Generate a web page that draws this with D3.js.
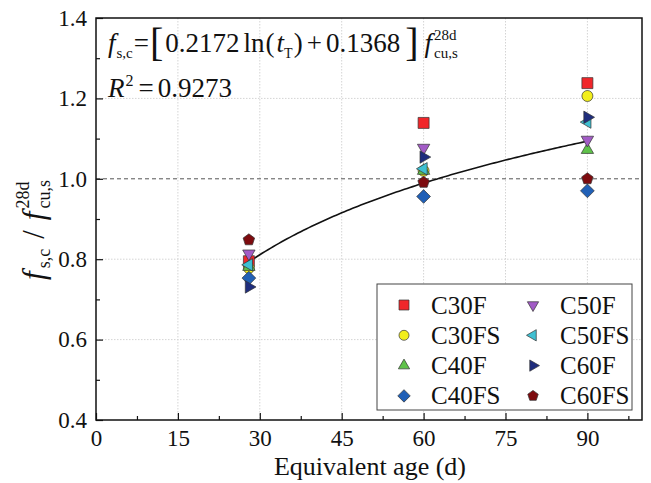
<!DOCTYPE html>
<html>
<head>
<meta charset="utf-8">
<script src="https://cdn.jsdelivr.net/npm/d3@7"></script>
<style>
  body { margin: 0; background: #fff; }
</style>
</head>
<body>
<div id="chart"></div>
<script>
(async () => {

    // equivalent ages (d)
    const ages = [28, 60, 90]

    // series values (f_s,c / f_cu,s^28d)
    const seriesNames = ["C30F", "C30FS", "C40F", "C40FS", "C50F", "C50FS", "C60F", "C60FS"]
    const C30F  = [0.795, 1.139, 1.238]
    const C30FS = [0.778, 1.020, 1.206]
    const C40F  = [0.781, 1.020, 1.072]
    const C40FS = [0.753, 0.956, 0.970]
    const C50F  = [0.814, 1.077, 1.097]
    const C50FS = [0.786, 1.025, 1.141]
    const C60F  = [0.731, 1.054, 1.153]
    const C60FS = [0.848, 0.991, 1.000]
    const seriesValues = [C30F, C30FS, C40F, C40FS, C50F, C50FS, C60F, C60FS]

    // fitted log curve as it appears on the plot: y = a*ln(t) + b
    const fitCoef = [0.257, -0.063]
    const fitRange = [28, 90]

    const xTicks = [0, 15, 30, 45, 60, 75, 90]
    const yTicks = [0.4, 0.6, 0.8, 1.0, 1.2, 1.4]

    const colors  = ["#f0262a", "#f2ee1c", "#5fc24a", "#2160b6", "#a25bc6", "#3fc0d2", "#1f2d7d", "#7d0b0f"]
    const symbols = ["square", "circle", "triUp", "diamond", "triDown", "triLeft", "triRight", "pentagon"]

    const FONT = "'Times New Roman', 'Liberation Serif', 'DejaVu Serif', serif"

    const width = 651
    const height = 483
    const left = 96, right = 642, top = 18, bottom = 420

    const x_scale = d3.scaleLinear().domain([0, 100]).range([left, right])
    const y_scale = d3.scaleLinear().domain([0.4, 1.4]).range([bottom, top])

    const svg = d3.select("#chart")
        .append("svg")
            .attr("width", width)
            .attr("height", height)
            .attr("font-family", FONT)
            .style("font-family", FONT)

    // grid
    svg.append("g")
        .selectAll("line")
        .data(xTicks.filter(d => d > 0))
        .enter()
        .append("line")
            .attr("x1", d => x_scale(d)).attr("x2", d => x_scale(d))
            .attr("y1", top).attr("y2", bottom)
            .attr("stroke", "#d4d4d4").attr("stroke-width", 1).attr("stroke-dasharray", "1.5,1.5")

    svg.append("g")
        .selectAll("line")
        .data(yTicks.filter(d => d > 0.4 && d < 1.4 && d !== 1.0))
        .enter()
        .append("line")
            .attr("x1", left).attr("x2", right)
            .attr("y1", d => y_scale(d)).attr("y2", d => y_scale(d))
            .attr("stroke", "#d4d4d4").attr("stroke-width", 1).attr("stroke-dasharray", "1.5,1.5")

    // reference line at 1.0
    svg.append("line")
        .attr("x1", left).attr("x2", right)
        .attr("y1", y_scale(1.0)).attr("y2", y_scale(1.0))
        .attr("stroke", "#555").attr("stroke-width", 1).attr("stroke-dasharray", "4,3")

    // axes (ticks pointing inward)
    const x_axis = d3.axisBottom(x_scale).tickValues(xTicks).tickSize(-7).tickPadding(10).tickFormat(d3.format("d"))
    const x_minor = d3.axisBottom(x_scale).tickValues(xTicks.map(d => d + 7.5)).tickSize(-4).tickFormat("")
    const y_axis = d3.axisLeft(y_scale).tickValues(yTicks).tickSize(-7).tickPadding(9).tickFormat(d3.format(".1f"))
    const y_minor = d3.axisLeft(y_scale).tickValues([0.5, 0.7, 0.9, 1.1, 1.3]).tickSize(-4).tickFormat("")

    svg.append("g").attr("class", "x_axis").attr("transform", `translate(0, ${bottom})`).call(x_axis)
    svg.append("g").attr("transform", `translate(0, ${bottom})`).call(x_minor)
    svg.append("g").attr("class", "y_axis").attr("transform", `translate(${left}, 0)`).call(y_axis)
    svg.append("g").attr("transform", `translate(${left}, 0)`).call(y_minor)

    svg.selectAll("g").attr("font-family", null).attr("font-size", null)
    svg.selectAll(".domain").remove()
    svg.selectAll(".tick line").attr("stroke", "#111").attr("stroke-width", 1.2)
    svg.selectAll(".tick text").style("font-size", "23px").attr("fill", "#111")

    // frame
    svg.append("rect")
        .attr("x", left).attr("y", top)
        .attr("width", right - left).attr("height", bottom - top)
        .attr("fill", "none").attr("stroke", "#111").attr("stroke-width", 1.5)

    // x axis title
    svg.append("text")
        .text("Equivalent age (d)")
        .attr("x", 370)
        .attr("y", 475)
        .attr("text-anchor", "middle")
        .attr("fill", "#111")
        .style("font-size", "26px")

    // rich text helper: parts laid out left to right, "stack" puts a part above the previous one
    function richText(g, parts, center) {
        let cx = 0, lastStart = 0
        const nodes = []
        parts.forEach(function(p) {
            const t = g.append("text")
                .text(p.t)
                .attr("y", p.dy || 0)
                .attr("fill", "#111")
                .style("font-size", p.s + "px")
                .style("font-style", p.i ? "italic" : "normal")
            const w = t.node().getComputedTextLength()
            let sx
            if (p.stack) {
                sx = lastStart
                cx = Math.max(cx, sx + w)
            } else {
                sx = cx + (p.pre || 0)
                lastStart = sx
                cx = sx + w
            }
            t.attr("x", sx)
            nodes.push(t)
        })
        if (center) nodes.forEach(t => t.attr("x", +t.attr("x") - cx / 2))
        return cx
    }

    // y axis title
    const yg = svg.append("g").attr("transform", `translate(44, 230) rotate(-90)`)
    richText(yg, [
        { t: "f", s: 31, i: true },
        { t: "s,c", s: 18, dy: 6, pre: 3 },
        { t: "/", s: 31, pre: 10 },
        { t: "f", s: 31, i: true, pre: 10 },
        { t: "cu,s", s: 18, dy: 6, pre: 3 },
        { t: "28d", s: 18, dy: -15, stack: true }
    ], true)

    // fitted curve
    const fitPts = d3.range(fitRange[0], fitRange[1] + 0.5, 0.5)
    const line = d3.line()
        .x(d => x_scale(d))
        .y(d => y_scale(fitCoef[0] * Math.log(d) + fitCoef[1]))
    svg.append("path")
        .attr("d", line(fitPts))
        .attr("fill", "none")
        .attr("stroke", "#111")
        .attr("stroke-width", 1.6)

    // marker shapes
    function symbolPath(kind, r) {
        const pts = []
        if (kind === "circle") return d3.symbol(d3.symbolCircle, Math.PI * r * r)()
        if (kind === "square") return `M${-r},${-r}H${r}V${r}H${-r}Z`
        if (kind === "diamond") return `M0,${-r * 1.25}L${r * 1.25},0L0,${r * 1.25}L${-r * 1.25},0Z`
        let angles
        if (kind === "triUp") angles = [-90, 30, 150]
        if (kind === "triDown") angles = [90, 210, 330]
        if (kind === "triLeft") angles = [180, 300, 60]
        if (kind === "triRight") angles = [0, 120, 240]
        if (kind === "pentagon") angles = [-90, -18, 54, 126, 198]
        const rr = kind === "pentagon" ? r * 1.1 : r * 1.3
        angles.forEach(a => pts.push([rr * Math.cos(a * Math.PI / 180), rr * Math.sin(a * Math.PI / 180)]))
        return "M" + pts.map(p => p[0].toFixed(2) + "," + p[1].toFixed(2)).join("L") + "Z"
    }

    // data points
    seriesValues.forEach(function(vals, i) {
        svg.append("g")
            .selectAll("path")
            .data(vals)
            .enter()
            .append("path")
                .attr("d", symbolPath(symbols[i], 5.5))
                .attr("transform", (d, j) => `translate(${x_scale(ages[j])}, ${y_scale(d)})`)
                .attr("fill", colors[i])
                .attr("stroke", "#333")
                .attr("stroke-width", 0.7)
    })

    // legend
    const lg = svg.append("g")
    lg.append("rect")
        .attr("x", 377).attr("y", 284).attr("width", 255).attr("height", 126)
        .attr("fill", "#fff").attr("stroke", "#444").attr("stroke-width", 1)
    seriesNames.forEach(function(name, i) {
        const col = Math.floor(i / 4), row = i % 4
        const sx = 404 + col * 129, sy = 305 + row * 30.3
        lg.append("path")
            .attr("d", symbolPath(symbols[i], 5))
            .attr("transform", `translate(${sx}, ${sy})`)
            .attr("fill", colors[i]).attr("stroke", "#333").attr("stroke-width", 0.7)
        lg.append("text")
            .text(name)
            .attr("x", sx + 27).attr("y", sy + 8.5)
            .attr("fill", "#111")
            .style("font-size", "25px")
    })

    // formula text
    const fg = svg.append("g").attr("transform", "translate(108, 52)")
    richText(fg, [
        { t: "f", s: 27, i: true },
        { t: "s,c", s: 15, dy: 6, pre: 1 },
        { t: "=", s: 27, pre: 1 },
        { t: "[", s: 40, dy: 4, pre: 1 },
        { t: "0.2172", s: 27, pre: 2 },
        { t: "ln", s: 27, pre: 4 },
        { t: "(", s: 27, pre: 1 },
        { t: "t", s: 27, i: true, pre: 2 },
        { t: "T", s: 14, dy: 6 },
        { t: ")", s: 27, pre: 1 },
        { t: "+", s: 27, pre: 4 },
        { t: "0.1368", s: 27, pre: 4 },
        { t: "]", s: 40, dy: 4, pre: 5 },
        { t: "f", s: 27, i: true, pre: 6 },
        { t: "cu,s", s: 15, dy: 6, pre: 2 },
        { t: "28d", s: 15, dy: -12, stack: true }
    ], false)

    const rg = svg.append("g").attr("transform", "translate(108, 97)")
    richText(rg, [
        { t: "R", s: 27, i: true },
        { t: "2", s: 16, dy: -11, pre: 1 },
        { t: "=", s: 27, pre: 5 },
        { t: "0.9273", s: 27, pre: 4 }
    ], false)

})();
</script>
</body>
</html>
